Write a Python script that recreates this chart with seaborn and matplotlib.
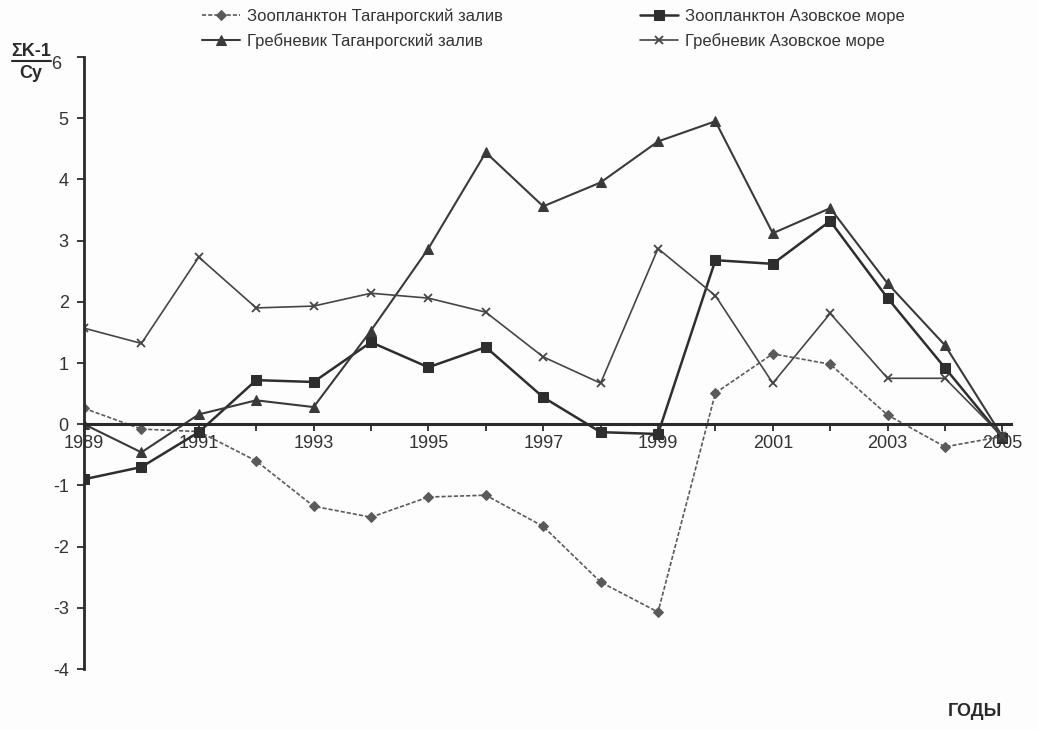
import matplotlib
matplotlib.use("Agg")
import matplotlib.pyplot as plt
import matplotlib.transforms as mtransforms
import seaborn as sns
import pandas as pd
from matplotlib.lines import Line2D

years = list(range(1989, 2006))

zoo_taganrog = [0.26, -0.08, -0.12, -0.60, -1.34, -1.52, -1.19, -1.16, -1.67,
                -2.58, -3.07, 0.51, 1.15, 0.98, 0.15, -0.37, -0.20]
zoo_azov = [-0.90, -0.70, -0.13, 0.72, 0.69, 1.34, 0.93, 1.26, 0.44,
            -0.13, -0.16, 2.68, 2.62, 3.32, 2.06, 0.92, -0.22]
greb_taganrog = [0.00, -0.46, 0.16, 0.39, 0.28, 1.53, 2.87, 4.44, 3.56,
                 3.95, 4.62, 4.95, 3.12, 3.53, 2.30, 1.29, -0.20]
greb_azov = [1.57, 1.32, 2.73, 1.90, 1.93, 2.14, 2.06, 1.83, 1.10,
             0.67, 2.87, 2.10, 0.67, 1.81, 0.75, 0.75, -0.20]

series_names = ["Зоопланктон Таганрогский залив",
                "Зоопланктон Азовское море",
                "Гребневик Таганрогский залив",
                "Гребневик Азовское море"]
series_values = [zoo_taganrog, zoo_azov, greb_taganrog, greb_azov]

y_ticks = list(range(-4, 7))
x_label_years = list(range(1989, 2006, 2))

sns.set_theme(style="white")
plt.rcParams["font.family"] = ["Liberation Sans", "DejaVu Sans"]

fig = plt.figure(figsize=(10.38, 7.29), dpi=100, facecolor="#fdfdfd")
ax = fig.add_axes([84 / 1038, 60 / 729, 927 / 1038, 612 / 729])
ax.set_facecolor("#fdfdfd")

styles = [
    dict(color="#5a5a5a", marker="D", markersize=5, linewidth=1.2, linestyle=(0, (2.5, 1.2))),
    dict(color="#2e2e2e", marker="s", markersize=7, linewidth=1.8, linestyle="-"),
    dict(color="#3a3a3a", marker="^", markersize=7, linewidth=1.5, linestyle="-"),
    dict(color="#454545", marker="x", markersize=6, linewidth=1.2, linestyle="-", markeredgewidth=1.3),
]

for name, vals, st in zip(series_names, series_values, styles):
    df = pd.DataFrame({"year": years, "value": vals})
    sns.lineplot(data=df, x="year", y="value", ax=ax, label=name,
                 markeredgecolor=st["color"], **st)

ax.set_xlim(1989, 2005.15)
ax.set_ylim(-4, 6)

for s in ["top", "right"]:
    ax.spines[s].set_visible(False)
ax.spines["bottom"].set_position(("data", 0))
ax.spines["bottom"].set_color("#2a2a2a")
ax.spines["bottom"].set_linewidth(2.2)
ax.spines["left"].set_color("#2a2a2a")
ax.spines["left"].set_linewidth(2.0)

ax.set_xticks(years)
ax.set_xticklabels([str(y) if y in x_label_years else "" for y in years])
ax.set_yticks(y_ticks)
ax.set_yticklabels([str(t) for t in y_ticks])
ax.tick_params(axis="x", direction="out", length=5, width=1.3, color="#2a2a2a",
               labelsize=13, labelcolor="#333333", pad=3, bottom=True)
ax.tick_params(axis="y", direction="out", length=5, width=1.3, color="#2a2a2a",
               labelsize=13, labelcolor="#333333", pad=6, left=True)
ax.set_xlabel("")
ax.set_ylabel("")
ax.grid(False)

# the top tick label sits as a subscript next to the axis title
top_label = ax.get_yticklabels()[-1]
top_label.set_transform(top_label.get_transform() +
                        mtransforms.ScaledTranslation(-7 / 100, -5 / 100, fig.dpi_scale_trans))

# legend in two columns above the plot
handles, labels = ax.get_legend_handles_labels()
order = [0, 2, 1, 3]
leg = fig.legend([handles[i] for i in order], [labels[i] for i in order],
                 loc="upper left", bbox_to_anchor=(187 / 1038, 1 + 7 / 729),
                 ncol=2, frameon=False, fontsize=12, handlelength=2.3,
                 handletextpad=0.4, columnspacing=8.2, labelspacing=0.55,
                 labelcolor="#333333")
ax.get_legend().remove()

# axis titles
fig.text(31 / 1038, 1 - 51 / 729, "ΣK-1", fontsize=13, fontweight="bold",
         ha="center", va="center", color="#2a2a2a")
fig.add_artist(Line2D([12 / 1038, 51 / 1038], [1 - 61 / 729, 1 - 61 / 729],
                      color="#2a2a2a", linewidth=1.5))
fig.text(31 / 1038, 1 - 73 / 729, "Cy", fontsize=13, fontweight="bold",
         ha="center", va="center", color="#2a2a2a")
fig.text(975 / 1038, 1 - 712 / 729, "ГОДЫ", fontsize=13, fontweight="bold",
         ha="center", va="center", color="#2a2a2a")

fig.savefig("out.png", dpi=100, facecolor=fig.get_facecolor())
